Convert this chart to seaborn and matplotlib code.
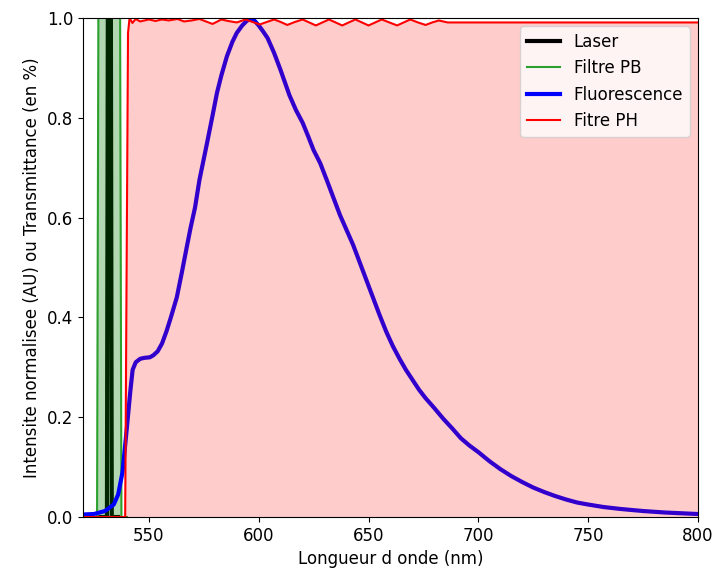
import matplotlib
matplotlib.use("Agg")
import matplotlib.pyplot as plt
import seaborn as sns

# laser line (normalised)
laser_nm = [528, 530.9, 531.3, 532.7, 533.1, 536]
laser_int = [0, 0, 1, 1, 0, 0]

# band-pass filter (Filtre PB)
pb_nm = [522, 526.4, 527.0, 536.9, 537.5, 540]
pb_t = [0, 0, 1, 1, 0, 0]

# fluorescence spectrum (normalised)
fluo_nm = [520, 525, 530, 534, 536, 538, 540, 541.5, 542.6, 544, 546, 548, 550.4,
           552, 554, 556, 558, 560, 562.7, 565, 567.2, 569, 571, 573, 576.5, 579,
           581, 583, 585.5, 588, 590, 592.5, 594.5, 596, 598, 600, 602, 604, 607,
           610, 612, 614, 617, 620, 622.5, 625, 628, 631, 634, 637, 640, 643, 646,
           649, 652, 655, 658, 661, 664, 667, 670, 673, 676, 680, 684, 688, 692,
           696, 700, 705, 710, 715, 720, 725, 730, 735, 740, 745, 750, 757, 765,
           775, 785, 800]
fluo_int = [0.005, 0.006, 0.012, 0.025, 0.045, 0.09, 0.18, 0.25, 0.295, 0.31,
            0.317, 0.319, 0.32, 0.324, 0.332, 0.348, 0.372, 0.40, 0.44, 0.49, 0.54,
            0.58, 0.62, 0.675, 0.75, 0.805, 0.85, 0.885, 0.923, 0.952, 0.97, 0.985,
            0.994, 0.998, 0.995, 0.985, 0.973, 0.96, 0.93, 0.895, 0.87, 0.845,
            0.815, 0.79, 0.763, 0.735, 0.709, 0.675, 0.64, 0.605, 0.575, 0.545,
            0.51, 0.475, 0.44, 0.405, 0.372, 0.343, 0.318, 0.295, 0.275, 0.255,
            0.238, 0.218, 0.197, 0.178, 0.158, 0.143, 0.13, 0.112, 0.096, 0.082,
            0.07, 0.059, 0.05, 0.042, 0.035, 0.029, 0.025, 0.02, 0.016, 0.012,
            0.009, 0.006]

# high-pass filter (Fitre PH)
ph_nm = [520, 539.2, 539.8, 540.5, 541.2, 542.5, 544, 546, 550, 553, 556, 559, 563,
         566, 569.5, 573, 576, 579, 583, 586, 590, 594, 597.2, 600.5, 603.7, 607,
         610, 613, 616.5, 620, 623, 626, 629, 632, 635, 638, 641, 644, 647, 650,
         653, 656, 659.5, 663, 666, 669, 672.5, 676, 679, 682, 686, 800]
ph_t = [0, 0, 0.45, 0.97, 1.0, 0.99, 0.998, 0.993, 0.997, 0.994, 0.997, 0.995,
        0.998, 0.993, 0.995, 0.998, 0.993, 0.988, 0.997, 0.994, 0.991, 0.997,
        0.992, 0.987, 0.992, 0.997, 0.992, 0.986, 0.992, 0.997, 0.991, 0.985,
        0.991, 0.997, 0.991, 0.985, 0.991, 0.997, 0.991, 0.985, 0.991, 0.997,
        0.991, 0.985, 0.991, 0.997, 0.991, 0.986, 0.991, 0.995, 0.991, 0.991]

plt.rcParams["font.family"] = ["DejaVu Sans"]
plt.rcParams["font.size"] = 12

fig, ax = plt.subplots(figsize=(7.13, 5.76), dpi=100)
fig.subplots_adjust(left=0.1164, right=0.979, top=0.9688, bottom=0.1024)

sns.lineplot(x=laser_nm, y=laser_int, color="black", lw=3, label="Laser",
             estimator=None, sort=False, ax=ax, zorder=2)

sns.lineplot(x=pb_nm, y=pb_t, color="tab:green", lw=1.5, label="Filtre PB",
             estimator=None, sort=False, ax=ax, zorder=2.2)
ax.fill_between(pb_nm, pb_t, color="green", alpha=0.3, lw=0, zorder=2.1)

sns.lineplot(x=fluo_nm, y=fluo_int, color="blue", lw=3, label="Fluorescence",
             estimator=None, sort=False, ax=ax, zorder=2.3)

ax.fill_between(ph_nm, ph_t, color="red", alpha=0.2, lw=0, zorder=2.4)
sns.lineplot(x=ph_nm, y=ph_t, color="red", lw=1.5, label="Fitre PH",
             estimator=None, sort=False, ax=ax, zorder=2.5)

ax.set_xlim(520, 800)
ax.set_ylim(0, 1)
ax.set_xticks([550, 600, 650, 700, 750, 800])
ax.set_yticks([0.0, 0.2, 0.4, 0.6, 0.8, 1.0])
ax.set_xlabel("Longueur d onde (nm)")
ax.set_ylabel("Intensite normalisee (AU) ou Transmittance (en %)")
ax.legend(loc="upper right")

fig.savefig("out.png", dpi=100)
